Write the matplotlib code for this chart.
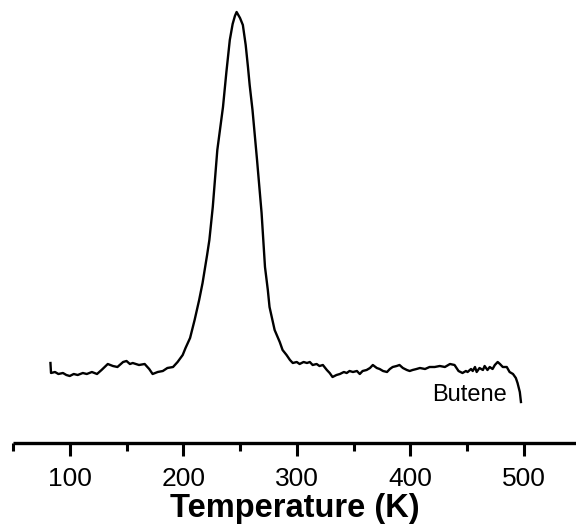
import matplotlib
matplotlib.use('Agg')
import matplotlib.pyplot as plt
from matplotlib.ticker import MultipleLocator

plt.rcParams['font.family'] = ['Liberation Sans', 'DejaVu Sans']

# temperature (K) and desorption signal (a.u.)
temperature = [
    83, 83.5, 87, 90, 94, 97, 100, 103.5, 107, 111.5,
    115, 119.5, 124, 128, 133.5, 138, 142, 147, 150, 153,
    155.5, 161, 166, 170, 173, 177.5, 182, 186, 191, 195,
    199.5, 202, 206, 210, 214, 217, 221, 223, 226, 230,
    235, 238, 241, 243.5, 245.5, 247, 250, 252.5, 255, 257,
    258.5, 261, 265, 269, 272, 274.5, 276, 280.5, 285, 287.5,
    291, 294, 296.5, 300, 302.5, 306, 309, 311.5, 314, 317.5,
    320, 323, 326.5, 329, 331.5, 335, 338, 341.5, 344, 346.5,
    349.5, 353, 355.5, 358, 361.5, 364.5, 367, 370.5, 373, 376,
    379.5, 382, 384.5, 388, 390.5, 393.5, 397, 399.5, 402, 405.5,
    408.5, 413, 417, 421.5, 426, 430.5, 435, 439, 442.5, 446,
    449, 450.5, 453.5, 455, 457, 458.5, 461, 464, 465.5, 468,
    470, 472.5, 474.5, 477, 479, 481.5, 485, 487.5, 490.5, 493,
    494.5, 496.5, 497.5,
]
signal = [
    80, 70, 71, 69, 70, 68, 67, 69, 68, 70,
    69, 71, 69, 73, 79, 77, 76, 81, 82, 79,
    80, 78, 79, 74, 69, 71, 72, 75, 76, 81,
    88, 95, 105, 123, 143, 160, 188, 203, 236, 293,
    336, 371, 403, 419, 427, 431, 425, 418, 398, 376,
    358, 333, 283, 230, 176, 153, 136, 113, 101, 93,
    88, 83, 80, 81, 79, 81, 80, 81, 78, 79,
    77, 78, 73, 70, 66, 68, 69, 71, 70, 72,
    71, 72, 69, 72, 73, 75, 78, 75, 74, 72,
    71, 74, 76, 77, 78, 75, 73, 72, 73, 74,
    75, 74, 76, 76, 77, 76, 79, 78, 72, 70,
    72, 71, 74, 72, 76, 71, 75, 73, 77, 73,
    76, 74, 78, 81, 79, 76, 76, 71, 69, 65,
    60, 51, 41,
]
label = 'Butene'

fig = plt.figure(figsize=(5.76, 5.32), dpi=100)
ax = fig.add_axes([13 / 576, 89 / 532, 1 - 13 / 576, 443 / 532])

ax.plot(temperature, signal, color='black', linewidth=1.7)
ax.text(485.5, 48, label, fontsize=17, ha='right', va='center')

ax.set_xlim(50, 546)
ax.set_ylim(0, 443)

for side in ['top', 'right', 'left']:
    ax.spines[side].set_visible(False)
ax.spines['bottom'].set_linewidth(2.4)
ax.spines['bottom'].set_capstyle('butt')

ax.set_yticks([])
ax.xaxis.set_major_locator(MultipleLocator(100))
ax.xaxis.set_minor_locator(MultipleLocator(50))
ax.tick_params(axis='x', which='major', direction='out', length=9.5, width=2.2,
               labelsize=19, pad=8)
ax.tick_params(axis='x', which='minor', direction='out', length=6, width=2.2)
ax.set_xlabel('Temperature (K)', fontsize=23.5, fontweight='bold', labelpad=1)

fig.savefig('out.png', dpi=100)
